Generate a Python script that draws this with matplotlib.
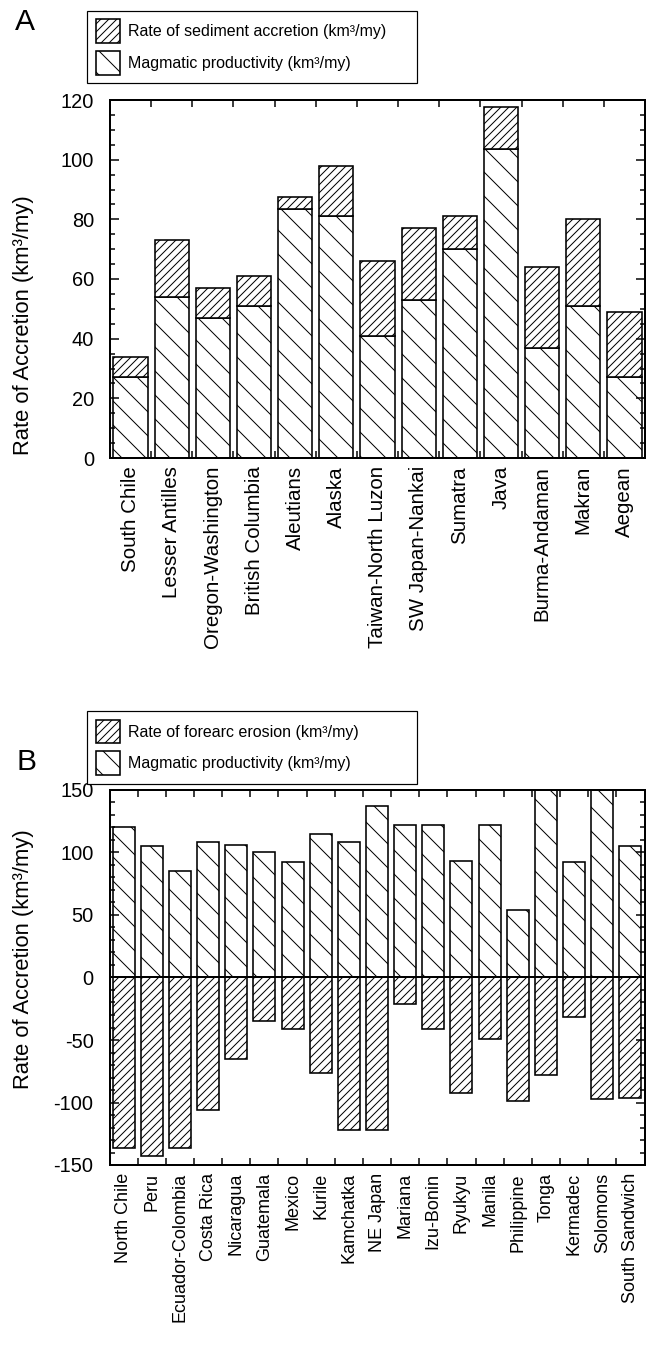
import numpy as np
import matplotlib
matplotlib.use("Agg")
import matplotlib.pyplot as plt
from matplotlib.patches import Patch
from matplotlib.ticker import MultipleLocator, FixedLocator

# ----------------------------
# DATA
# ----------------------------
# Panel A: accretionary margins (km3/my)
arcs_a = ["South Chile", "Lesser Antilles", "Oregon-Washington", "British Columbia",
          "Aleutians", "Alaska", "Taiwan-North Luzon", "SW Japan-Nankai",
          "Sumatra", "Java", "Burma-Andaman", "Makran", "Aegean"]
magmatic_a = [27, 54, 47, 51, 83.5, 81, 41, 53, 70, 103.5, 37, 51, 27]
sediment_a = [7, 19, 10, 10, 4, 17, 25, 24, 11, 14, 27, 29, 22]

# Panel B: erosive margins (km3/my)
arcs_b = ["North Chile", "Peru", "Ecuador-Colombia", "Costa Rica", "Nicaragua",
          "Guatemala", "Mexico", "Kurile", "Kamchatka", "NE Japan", "Mariana",
          "Izu-Bonin", "Ryukyu", "Manila", "Philippine", "Tonga", "Kermadec",
          "Solomons", "South Sandwich"]
magmatic_b = [120, 105, 85, 108, 106, 100, 92, 115, 108, 137, 122, 122, 93, 122,
              54, 150, 92, 150, 105]
erosion_b = [-136, -143, -136, -106, -65, -35, -41, -76, -122, -122, -21, -41,
             -92, -49, -99, -78, -32, -97, -96]

YLABEL = "Rate of Accretion (km\u00b3/my)"

# ----------------------------
# STYLE
# ----------------------------
plt.rcParams["font.family"] = ["Liberation Sans", "DejaVu Sans"]
plt.rcParams["hatch.linewidth"] = 1.0
plt.rcParams["hatch.color"] = "black"
plt.rcParams["axes.unicode_minus"] = False

W, H = 652, 1359
fig = plt.figure(figsize=(W / 72, H / 72), dpi=72)

HATCH_MAG = "\\"
HATCH_SED = "///"
BAR_KW = dict(facecolor="white", edgecolor="black", linewidth=1.6)


def style_axis(ax, n, major, minor, xlabelsize):
    for s in ax.spines.values():
        s.set_linewidth(2)
    ax.set_xlim(-0.5, n - 0.5)
    ax.yaxis.set_major_locator(MultipleLocator(major))
    ax.yaxis.set_minor_locator(MultipleLocator(minor))
    ax.xaxis.set_minor_locator(FixedLocator(np.arange(0.5, n - 0.5, 1)))
    ax.tick_params(which="both", direction="in", top=True, right=True, width=1.5)
    ax.tick_params(axis="y", which="major", length=9, labelsize=20, pad=16)
    ax.tick_params(axis="y", which="minor", length=5)
    ax.tick_params(axis="x", which="major", length=0, labelsize=xlabelsize, pad=8)
    ax.tick_params(axis="x", which="minor", length=7)


def legend_box(handles, labels, top_px):
    leg = fig.legend(handles, labels, loc="upper left",
                     bbox_to_anchor=(87 / W, 1 - (top_px + 77) / H, 330 / W, 77 / H),
                     mode="expand", borderaxespad=0, fontsize=16,
                     handlelength=1.5, handleheight=1.9, handletextpad=0.5,
                     labelspacing=0.5, borderpad=0.55, fancybox=False,
                     framealpha=1, edgecolor="black")
    leg.get_frame().set_linewidth(1.2)
    return leg


# =========================
# PANEL A
# =========================
axA = fig.add_axes([110 / W, 1 - 458 / H, 535 / W, 358 / H])
xa = np.arange(len(arcs_a))
axA.bar(xa, magmatic_a, width=0.83, hatch=HATCH_MAG, **BAR_KW)
axA.bar(xa, sediment_a, width=0.83, bottom=magmatic_a, hatch=HATCH_SED, **BAR_KW)
axA.set_ylim(0, 120)
style_axis(axA, len(arcs_a), 20, 5, 20.5)
axA.set_xticks(xa)
axA.set_xticklabels(arcs_a, rotation=90, va="top", ha="center")
axA.set_ylabel(YLABEL, fontsize=22)
axA.yaxis.set_label_coords(-0.142, 0.37)

legend_box([Patch(hatch=HATCH_SED, **BAR_KW), Patch(hatch=HATCH_MAG, **BAR_KW)],
           ["Rate of sediment accretion (km\u00b3/my)",
            "Magmatic productivity (km\u00b3/my)"], 10.5)
fig.text(25 / W, 1 - 22 / H, "A", fontsize=30, ha="center", va="center")

# =========================
# PANEL B
# =========================
axB = fig.add_axes([109.5 / W, 1 - 1165 / H, 535 / W, 375 / H])
xb = np.arange(len(arcs_b))
axB.bar(xb, magmatic_b, width=0.78, hatch=HATCH_MAG, **BAR_KW)
axB.bar(xb, erosion_b, width=0.78, hatch=HATCH_SED, **BAR_KW)
axB.axhline(0, color="black", linewidth=2)
axB.set_ylim(-150, 150)
style_axis(axB, len(arcs_b), 50, 10, 18)
axB.set_xticks(xb)
axB.set_xticklabels(arcs_b, rotation=90, va="top", ha="center")
axB.set_ylabel(YLABEL, fontsize=22)
axB.yaxis.set_label_coords(-0.142, 0.55)

legend_box([Patch(hatch=HATCH_SED, **BAR_KW), Patch(hatch=HATCH_MAG, **BAR_KW)],
           ["Rate of forearc erosion (km\u00b3/my)",
            "Magmatic productivity (km\u00b3/my)"], 711)
fig.text(27 / W, 1 - 762 / H, "B", fontsize=30, ha="center", va="center")

fig.savefig("out.png", dpi=72)
